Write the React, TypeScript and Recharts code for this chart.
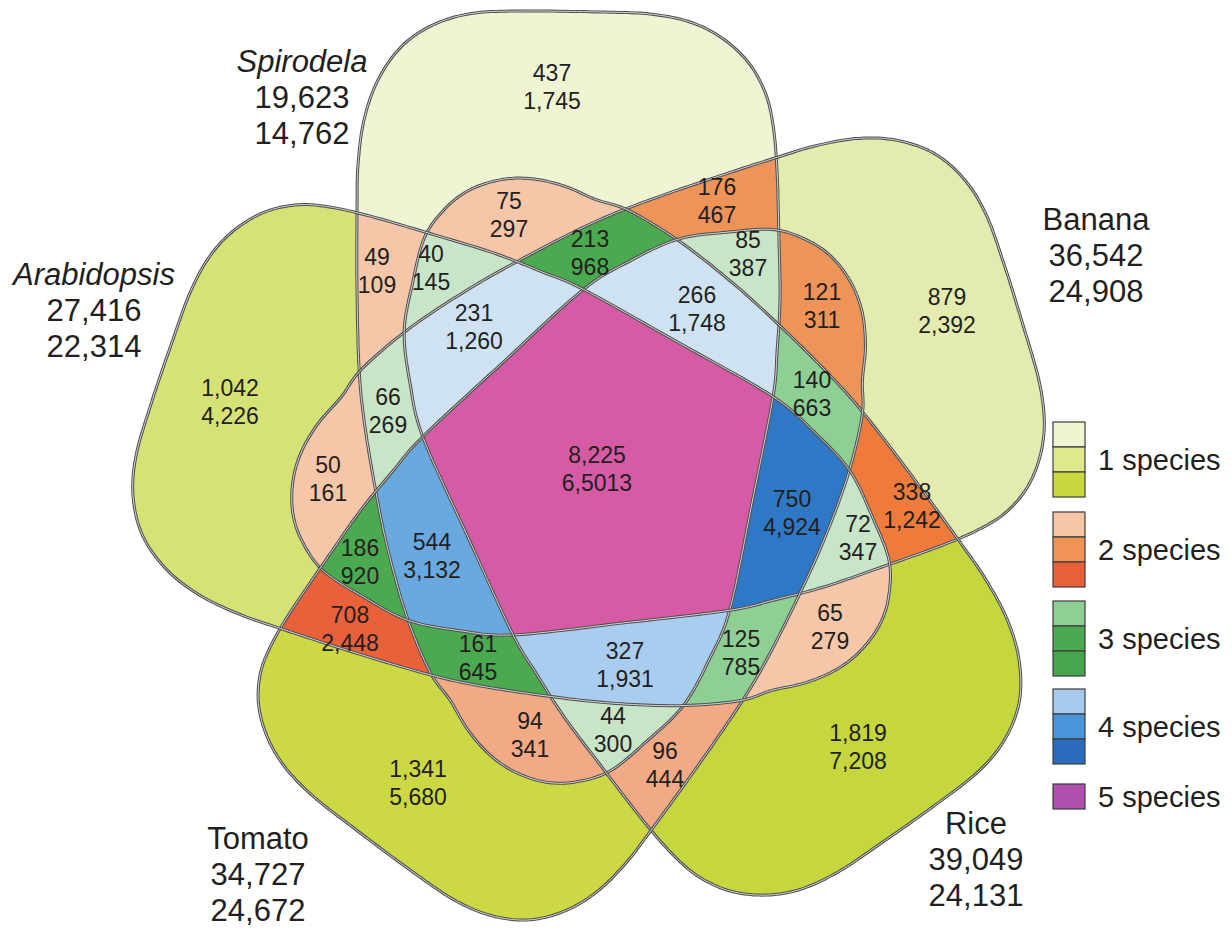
import React from 'react';
import { ScatterChart, Scatter, XAxis, YAxis } from 'recharts';

const WIDTH = 1232;
const HEIGHT = 929;
const FONT = '"Liberation Sans", Arial, Helvetica, sans-serif';
const INK = '#231f20';

// the five species, clockwise from the top petal
const speciesNames = ['Spirodela', 'Banana', 'Rice', 'Tomato', 'Arabidopsis'];
const speciesGenes = ['19,623', '36,542', '39,049', '34,727', '27,416'];
const speciesFamilies = ['14,762', '24,908', '24,131', '24,672', '22,314'];
const speciesItalic = [true, false, false, false, true];

// every region of the diagram: first line / second line of its label
const regionTop = [
  '437', '879', '1,819', '1,341', '1,042',
  '49', '75', '176', '121', '338', '65', '96', '94', '708', '50',
  '40', '213', '85', '140', '72', '125', '44', '161', '186', '66',
  '231', '266', '750', '327', '544',
  '8,225',
];
const regionBottom = [
  '1,745', '2,392', '7,208', '5,680', '4,226',
  '109', '297', '467', '311', '1,242', '279', '444', '341', '2,448', '161',
  '145', '968', '387', '663', '347', '785', '300', '645', '920', '269',
  '1,260', '1,748', '4,924', '1,931', '3,132',
  '6,5013',
];

const legendLabels = ['1 species', '2 species', '3 species', '4 species', '5 species'];

// ---- layout (kept apart from the values) ----
const speciesLabelPos: [number, number][] = [[302, 97], [1096, 255], [976, 859], [258, 874], [94, 310]];
const regionLabelPos: [number, number][] = [
  [552, 87], [947, 311], [858, 747], [418, 783], [230, 402],
  [377, 271], [509, 215], [717, 201], [822, 306], [912, 506], [830, 627], [665, 765], [530, 735], [350, 629], [328, 479],
  [431, 268], [590, 253], [748, 254], [812, 394], [858, 538], [741, 653], [613, 730], [478, 658], [360, 562], [388, 411],
  [474, 327], [697, 309], [792, 513], [625, 665], [432, 556],
  [597, 469],
];
const regionFill = [
  '#eff5d3', '#e3ecae', '#c5d63e', '#ccd944', '#d7e276',
  '#f6c6a8', '#f6c6a8', '#ef9458', '#ef9458', '#ee7b3c', '#f6c6a8', '#f2a985', '#f2a985', '#e9613b', '#f6c6a8',
  '#c8e5c8', '#4ba94f', '#c8e5c8', '#8ecf93', '#c8e5c8', '#8ecf93', '#c8e5c8', '#4ba94f', '#4ba94f', '#c8e5c8',
  '#cfe2f3', '#cfe2f3', '#2e78c5', '#a9cdef', '#6aa9df',
  '#d55ba5',
];
const legendFill = [
  ['#eff5d3', '#dfe98c', '#c8d940'],
  ['#f6c5a6', '#ef9357', '#e8603a'],
  ['#8ecf93', '#4ba94f', '#47a54c'],
  ['#a7cbee', '#4a95da', '#2a6bbd'],
  ['#b14fae'],
];
const legendTop = [422, 512, 601, 689, 784];

// one petal (Spirodela); the others are the same outline turned by 72 degrees,
// with their outer ends pulled in a little where the drawing is not quite symmetric
const CENTER: [number, number] = [604.4, 473.6];
const PETAL: [number, number][] = [
  [530, 11], [600, 12], [650, 14], [690, 22], [722, 38], [748, 62], [765, 92], [773, 125], [777, 170],
  [779, 240], [780, 300], [777, 352], [773, 397], [752, 503], [730, 609], [709, 660], [683, 706], [647, 741],
  [610, 771], [575, 782], [545, 782], [515, 772], [490, 755], [468, 730], [450, 700], [430, 672],
  [407, 617], [388, 550], [375, 487], [364, 420], [359, 367], [357, 290], [357, 210], [358, 165],
  [364, 120], [378, 80], [402, 46], [435, 24], [475, 13],
];
const petalShrink = [0, 18, 0, 28, 10];

type Pt = [number, number];

const rotate = (p: Pt, k: number): Pt => {
  const a = (k * 72 * Math.PI) / 180;
  const dx = p[0] - CENTER[0];
  const dy = p[1] - CENTER[1];
  return [CENTER[0] + dx * Math.cos(a) - dy * Math.sin(a), CENTER[1] + dx * Math.sin(a) + dy * Math.cos(a)];
};

const pullIn = (p: Pt, k: number): Pt => {
  const a = (k * 72 * Math.PI) / 180;
  const u = [Math.sin(a), -Math.cos(a)];
  const proj = (p[0] - CENTER[0]) * u[0] + (p[1] - CENTER[1]) * u[1];
  if (proj <= 250) return p;
  const f = (petalShrink[k] * (proj - 250)) / 215;
  return [p[0] - u[0] * f, p[1] - u[1] * f];
};

const smoothClosed = (pts: Pt[], steps = 12): Pt[] => {
  const out: Pt[] = [];
  const n = pts.length;
  for (let i = 0; i < n; i++) {
    const p0 = pts[(i - 1 + n) % n], p1 = pts[i], p2 = pts[(i + 1) % n], p3 = pts[(i + 2) % n];
    for (let s = 0; s < steps; s++) {
      const t = s / steps, t2 = t * t, t3 = t2 * t;
      const f = (a: number, b: number, c: number, d: number) =>
        0.5 * (2 * b + (-a + c) * t + (2 * a - 5 * b + 4 * c - d) * t2 + (-a + 3 * b - 3 * c + d) * t3);
      out.push([f(p0[0], p1[0], p2[0], p3[0]), f(p0[1], p1[1], p2[1], p3[1])]);
    }
  }
  return out;
};

const inside = (pt: Pt, poly: Pt[]) => {
  let c = false;
  for (let i = 0, j = poly.length - 1; i < poly.length; j = i++) {
    const [xi, yi] = poly[i];
    const [xj, yj] = poly[j];
    if (yi > pt[1] !== yj > pt[1] && pt[0] < ((xj - xi) * (pt[1] - yi)) / (yj - yi) + xi) c = !c;
  }
  return c;
};

const outlines = speciesNames.map((_, k) => smoothClosed(PETAL.map((p) => pullIn(rotate(p, k), k))));

const maskOf = (pt: Pt) => outlines.reduce((m, poly, k) => (inside(pt, poly) ? m | (1 << k) : m), 0);
const bits = (m: number) => [0, 1, 2, 3, 4].filter((k) => m & (1 << k));

// data -> pixel: the axes run 0..WIDTH and 0..HEIGHT over a plot of the same size
const KX = WIDTH / WIDTH;
const KY = HEIGHT / HEIGHT;
const pathFrom = (poly: Pt[], ox: number, oy: number, cx: number, cy: number) =>
  poly.map((p, i) => `${i ? 'L' : 'M'}${(cx + (p[0] - ox) * KX).toFixed(1)},${(cy + (p[1] - oy) * KY).toFixed(1)}`).join('') + 'Z';

const regions = regionTop.map((top, i) => {
  const mask = maskOf(regionLabelPos[i]);
  return { x: regionLabelPos[i][0], y: regionLabelPos[i][1], top, bottom: regionBottom[i], color: regionFill[i], mask };
});
const fills = [...regions].sort((a, b) => bits(a.mask).length - bits(b.mask).length);
const petals = speciesNames.map((name, k) => ({ x: CENTER[0], y: CENTER[1], k, name }));
const speciesLabels = speciesNames.map((name, k) => ({
  x: speciesLabelPos[k][0], y: speciesLabelPos[k][1], name, genes: speciesGenes[k], families: speciesFamilies[k], italic: speciesItalic[k],
}));
const legendItems = legendLabels.map((label, i) => ({ x: 1053, y: legendTop[i], label, cells: legendFill[i] }));

const ClipDefs = (props: any) => {
  const { cx, cy, payload } = props;
  return (
    <defs>
      {outlines.map((poly, k) => (
        <clipPath id={`petal-clip-${k}`} key={k}>
          <path d={pathFrom(poly, payload.x, payload.y, cx, cy)} />
        </clipPath>
      ))}
    </defs>
  );
};

const RegionFill = (props: any) => {
  const { cx, cy, payload } = props;
  const members = bits(payload.mask);
  if (!members.length) return <g />;
  const last = members[members.length - 1];
  let el: React.ReactElement = <path d={pathFrom(outlines[last], payload.x, payload.y, cx, cy)} fill={payload.color} />;
  members.slice(0, -1).reverse().forEach((k) => {
    el = <g clipPath={`url(#petal-clip-${k})`}>{el}</g>;
  });
  return <g>{el}</g>;
};

const PetalOutline = (props: any) => {
  const { cx, cy, payload } = props;
  const d = pathFrom(outlines[payload.k], payload.x, payload.y, cx, cy);
  return (
    <g>
      <path d={d} fill="none" stroke="#4f4f4f" strokeWidth={3} strokeLinejoin="round" />
      <path d={d} fill="none" stroke="#d4d4d4" strokeWidth={1} strokeLinejoin="round" />
    </g>
  );
};

const RegionLabel = (props: any) => {
  const { cx, cy, payload } = props;
  const style = { fontFamily: FONT, fontSize: 23, fill: INK };
  return (
    <g>
      <text x={cx} y={cy - 14} textAnchor="middle" dominantBaseline="central" style={style}>{payload.top}</text>
      <text x={cx} y={cy + 14} textAnchor="middle" dominantBaseline="central" style={style}>{payload.bottom}</text>
    </g>
  );
};

const SpeciesLabel = (props: any) => {
  const { cx, cy, payload } = props;
  const style = { fontFamily: FONT, fontSize: 31, fill: INK };
  return (
    <g>
      <text x={cx} y={cy - 36} textAnchor="middle" dominantBaseline="central" style={{ ...style, fontStyle: payload.italic ? 'italic' : 'normal' }}>
        {payload.name}
      </text>
      <text x={cx} y={cy} textAnchor="middle" dominantBaseline="central" style={style}>{payload.genes}</text>
      <text x={cx} y={cy + 36} textAnchor="middle" dominantBaseline="central" style={style}>{payload.families}</text>
    </g>
  );
};

const LegendItem = (props: any) => {
  const { cx, cy, payload } = props;
  const cellH = 25;
  const cells: string[] = payload.cells;
  return (
    <g>
      {cells.map((c, i) => (
        <rect key={i} x={cx} y={cy + i * cellH} width={32} height={cellH} fill={c} stroke="#3c3c3c" strokeWidth={1.2} />
      ))}
      <text x={cx + 45} y={cy + (cells.length * cellH) / 2} dominantBaseline="central" style={{ fontFamily: FONT, fontSize: 29, fill: INK }}>
        {payload.label}
      </text>
    </g>
  );
};

export default function App() {
  return (
    <div style={{ position: 'absolute', left: 0, top: 0, width: WIDTH, height: HEIGHT, background: '#fff' }}>
      <ScatterChart width={WIDTH} height={HEIGHT} margin={{ top: 0, right: 0, bottom: 0, left: 0 }}>
        <XAxis type="number" dataKey="x" domain={[0, WIDTH]} allowDataOverflow hide />
        <YAxis type="number" dataKey="y" domain={[0, HEIGHT]} allowDataOverflow reversed hide />
        <Scatter data={[petals[0]]} shape={ClipDefs} isAnimationActive={false} />
        <Scatter data={fills} shape={RegionFill} isAnimationActive={false} />
        <Scatter data={petals} shape={PetalOutline} isAnimationActive={false} />
        <Scatter data={regions} shape={RegionLabel} isAnimationActive={false} />
        <Scatter data={speciesLabels} shape={SpeciesLabel} isAnimationActive={false} />
        <Scatter data={legendItems} shape={LegendItem} isAnimationActive={false} />
      </ScatterChart>
    </div>
  );
}
